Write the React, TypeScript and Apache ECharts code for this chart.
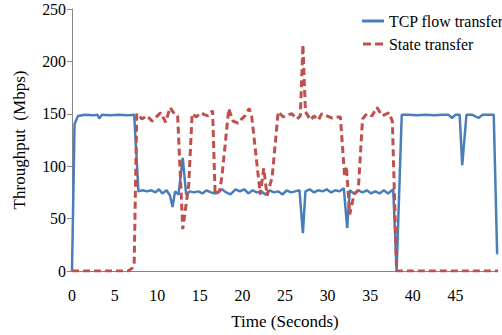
import React, { useEffect, useRef } from "react";
import * as echarts from "echarts";

const xTicks = [0, 5, 10, 15, 20, 25, 30, 35, 40, 45];
const yTicks = [0, 50, 100, 150, 200, 250];

const tcpTime = [
  0, 0.3, 0.7, 1.5, 2.5, 3.0, 3.2, 3.5, 4.5, 5.5, 6.5, 7.3, 7.8, 8.3, 8.8, 9.3, 9.8, 10.2, 10.6, 11.1,
  11.5, 11.8, 12.1, 12.5, 13.0, 13.4, 13.8, 14.3, 14.8, 15.3, 15.8, 16.3, 16.8, 17.3, 17.6, 18.1, 18.6,
  19.2, 19.7, 20.2, 20.7, 21.2, 21.7, 22.2, 22.7, 23.2, 23.7, 24.2, 24.7, 25.2, 25.7, 26.2, 26.7, 27.1,
  27.4, 27.9, 28.4, 28.9, 29.4, 29.9, 30.4, 30.9, 31.4, 31.9, 32.3, 32.6, 33.1, 33.6, 34.1, 34.6, 35.1,
  35.6, 36.1, 36.6, 37.1, 37.7, 38.1, 38.7, 39.5, 40.5, 41.5, 42.5, 43.5, 44.2, 44.6, 45.0, 45.5, 45.8,
  46.3, 47.0, 47.7, 48.2, 49.0, 49.5, 49.9,
];
const tcpValues = [
  0, 140, 148, 149, 148.5, 149, 145.5, 149, 148.5, 149, 148.5, 149, 76, 77, 76, 77, 75, 78, 74, 77,
  72, 61, 76, 73, 108, 73, 76, 75, 76, 74, 77, 75, 74, 76, 78, 75, 73,
  78, 76, 78, 74, 77, 75, 76, 73, 77, 75, 76, 73, 77, 75, 76, 77, 36,
  76, 78, 75, 77, 76, 78, 75, 77, 76, 79, 41, 77, 74, 77, 75, 77, 74,
  76, 74, 77, 74, 78, 0, 149, 149, 148.5, 149, 148.5, 149, 149, 146, 149, 149, 101,
  149, 149, 146, 149, 149, 149, 16,
];

const stateTime = [
  0, 6.6, 7.1, 7.3, 7.6, 7.9, 8.2, 8.8, 9.4, 9.9, 10.4, 11.0, 11.5, 12.1, 12.4, 13.0, 13.7, 14.1, 14.6,
  15.1, 15.6, 16.0, 16.5, 16.8, 17.3, 17.6, 18.4, 18.9, 19.5, 19.9, 20.3, 20.8, 21.1, 22.1, 22.5, 22.9,
  23.5, 24.2, 24.8, 25.3, 25.8, 26.4, 26.8, 27.1, 27.4, 28.0, 28.4, 28.9, 29.3, 29.9, 30.5, 31.0, 31.5,
  32.0, 32.2, 32.6, 33.1, 33.6, 34.1, 34.6, 35.2, 35.8, 36.4, 37.2, 37.6, 38.1, 50,
];
const stateValues = [
  0, 0, 3, 8, 150, 148, 145, 148, 143, 147, 151, 142, 156, 149, 148, 40, 82, 150, 147,
  151, 149, 148, 153, 73, 76, 90, 155, 143, 141, 145, 148, 155, 147, 73, 98, 72,
  90, 152, 147, 149, 150, 145, 148, 216, 152, 144, 148, 144, 150, 148, 146, 147, 147,
  90, 100, 54, 73, 77, 145, 150, 148, 156, 148, 151, 143, 0, 0,
];

const seriesNames = ["TCP flow transfer", "State transfer"];

const FONT = "Liberation Serif";
const TEXT = "#010101";
const BLUE = "#4A7EBB";
const RED = "#C0504D";
const AXIS = "#868686";

export default function App() {
  const ref = useRef<HTMLDivElement>(null);
  useEffect(() => {
    if (!ref.current) return;
    const chart = echarts.init(ref.current, undefined, { renderer: "svg" });
    const tcpData = tcpTime.map((t, i) => [t, tcpValues[i]]);
    const stateData = stateTime.map((t, i) => [t, stateValues[i]]);
    chart.setOption({
      animation: false,
      grid: { left: 72, right: 4, top: 9, bottom: 61 },
      legend: {
        orient: "vertical",
        left: 357,
        top: 8,
        itemWidth: 22,
        itemHeight: 3,
        itemGap: 7,
        align: "left",
        data: [
          { name: seriesNames[0], icon: "rect", itemStyle: { color: BLUE } },
          {
            name: seriesNames[1],
            icon: "path://M0,0h8v3h-8zM12,0h8v3h-8z",
            itemStyle: { color: RED },
          },
        ],
        textStyle: { fontFamily: FONT, fontSize: 15.9, color: TEXT },
      },
      xAxis: {
        type: "value",
        min: 0,
        max: 50,
        interval: 5,
        name: "Time (Seconds)",
        nameLocation: "middle",
        nameGap: 42,
        nameTextStyle: { fontFamily: FONT, fontSize: 17, color: "#000" },
        axisLine: { show: true, lineStyle: { color: AXIS, width: 1 } },
        axisTick: { show: false },
        splitLine: { show: false },
        axisLabel: {
          fontFamily: FONT,
          fontSize: 15.9,
          color: TEXT,
          margin: 16,
          formatter: (v: number) => (xTicks.includes(v) ? String(v) : ""),
        },
      },
      yAxis: {
        type: "value",
        min: 0,
        max: 250,
        interval: 50,
        name: "Throughput  (Mbps)",
        nameLocation: "middle",
        nameGap: 44,
        nameTextStyle: { fontFamily: FONT, fontSize: 17, color: "#000" },
        axisLine: { show: true, lineStyle: { color: AXIS, width: 1 } },
        axisTick: { show: true, length: 5, lineStyle: { color: AXIS } },
        splitLine: { show: false },
        axisLabel: {
          fontFamily: FONT,
          fontSize: 15.9,
          color: TEXT,
          margin: 6,
          formatter: (v: number) => (yTicks.includes(v) ? String(v) : ""),
        },
      },
      series: [
        {
          name: seriesNames[0],
          type: "line",
          data: tcpData,
          symbol: "none",
          showSymbol: false,
          lineStyle: { color: BLUE, width: 2.5 },
          itemStyle: { color: BLUE },
          z: 2,
        },
        {
          name: seriesNames[1],
          type: "line",
          data: stateData,
          symbol: "none",
          showSymbol: false,
          lineStyle: { color: RED, width: 3, type: [7, 4] },
          itemStyle: { color: RED },
          z: 3,
        },
      ],
    });
    return () => chart.dispose();
  }, []);
  return <div ref={ref} style={{ width: 502, height: 335, position: "absolute", left: 0, top: 0 }} />;
}
